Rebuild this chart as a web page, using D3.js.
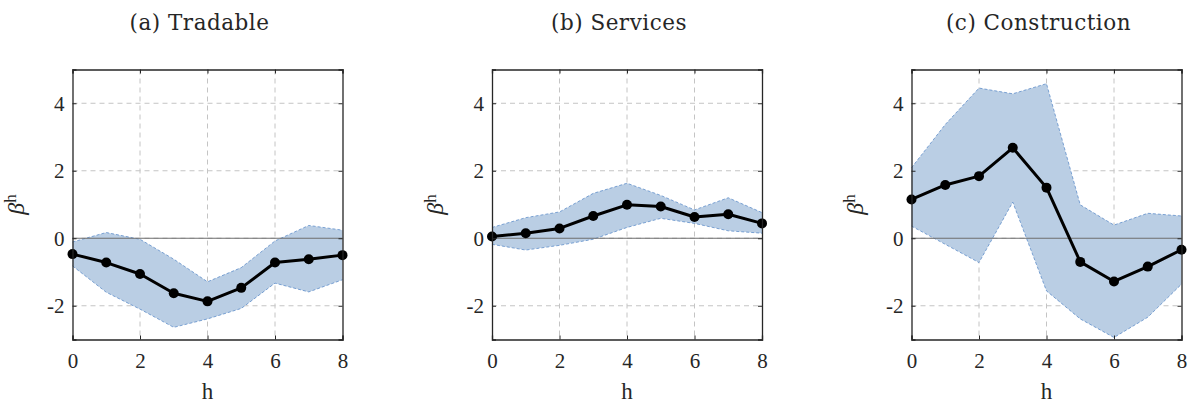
<!DOCTYPE html>
<html>
<head>
<meta charset="utf-8">
<script src="https://cdn.jsdelivr.net/npm/d3@7"></script>
<style>
  html, body { margin: 0; padding: 0; background: #fff; }
  svg { display: block; }
  text { font-family: "Liberation Serif", "DejaVu Serif", "Noto Serif", serif; fill: #262626; }
</style>
</head>
<body>
<script>
// Horizons
const horizons = [0, 1, 2, 3, 4, 5, 6, 7, 8];

// Panel titles
const titles = ["(a) Tradable", "(b) Services", "(c) Construction"];

// Point estimates per sector
const tradableBeta     = [-0.47, -0.72, -1.06, -1.63, -1.87, -1.47, -0.72, -0.62, -0.50];
const servicesBeta     = [0.05, 0.15, 0.29, 0.66, 0.99, 0.94, 0.63, 0.71, 0.44];
const constructionBeta = [1.15, 1.58, 1.84, 2.68, 1.50, -0.70, -1.28, -0.84, -0.34];

// Confidence band bounds per sector
const tradableUpper     = [-0.11, 0.17, -0.03, -0.62, -1.29, -0.87, -0.08, 0.38, 0.24];
const tradableLower     = [-0.82, -1.60, -2.10, -2.64, -2.39, -2.08, -1.33, -1.59, -1.23];
const servicesUpper     = [0.32, 0.61, 0.78, 1.33, 1.63, 1.27, 0.84, 1.20, 0.76];
const servicesLower     = [-0.18, -0.35, -0.21, -0.03, 0.32, 0.59, 0.44, 0.22, 0.15];
const constructionUpper = [2.09, 3.37, 4.45, 4.28, 4.58, 0.99, 0.39, 0.74, 0.66];
const constructionLower = [0.36, -0.18, -0.72, 1.07, -1.56, -2.39, -2.94, -2.34, -1.36];

// Axis ticks
const xTicks = [0, 2, 4, 6, 8];
const yTicks = [-2, 0, 2, 4];

const panels = [
  { title: titles[0], beta: tradableBeta, upper: tradableUpper, lower: tradableLower },
  { title: titles[1], beta: servicesBeta, upper: servicesUpper, lower: servicesLower },
  { title: titles[2], beta: constructionBeta, upper: constructionUpper, lower: constructionLower }
];

const W = 1192, H = 404;
const svg = d3.select("body").append("svg").attr("width", W).attr("height", H);

const serif = "'Liberation Serif', 'DejaVu Serif', 'Noto Serif', serif";
const titleFont = "'DejaVu Serif', 'Liberation Serif', serif";
const plotW = 270, plotH = 270;
const plotTop = 69.5;
const lefts = [72.5, 492, 911.5];

panels.forEach((p, i) => {
  const g = svg.append("g").attr("transform", `translate(${lefts[i]},${plotTop})`);
  const x = d3.scaleLinear().domain([0, 8]).range([0, plotW]);
  const y = d3.scaleLinear().domain([-3, 5]).range([plotH, 0]);

  // Grid
  g.append("g").selectAll("line").data(xTicks.filter(t => t > 0 && t < 8)).join("line")
    .attr("x1", d => x(d)).attr("x2", d => x(d)).attr("y1", 0).attr("y2", plotH)
    .attr("stroke", "#c4c4c4").attr("stroke-width", 1).attr("stroke-dasharray", "5,4");
  g.append("g").selectAll("line").data(yTicks).join("line")
    .attr("x1", 0).attr("x2", plotW).attr("y1", d => y(d)).attr("y2", d => y(d))
    .attr("stroke", "#c4c4c4").attr("stroke-width", 1).attr("stroke-dasharray", "5,4");

  // Confidence band
  const band = horizons.map((h, k) => ({ h, lo: p.lower[k], hi: p.upper[k] }));
  g.append("path").datum(band)
    .attr("d", d3.area().x(d => x(d.h)).y0(d => y(d.lo)).y1(d => y(d.hi)))
    .attr("fill", "#bacee4").attr("stroke", "none");
  [p.upper, p.lower].forEach(b => {
    g.append("path").datum(horizons.map((h, k) => [h, b[k]]))
      .attr("d", d3.line().x(d => x(d[0])).y(d => y(d[1])))
      .attr("fill", "none").attr("stroke", "#4f83c4").attr("stroke-width", 0.7)
      .attr("stroke-dasharray", "3,2");
  });

  // Zero line
  g.append("line").attr("x1", 0).attr("x2", plotW).attr("y1", y(0)).attr("y2", y(0))
    .attr("stroke", "#6e6e6e").attr("stroke-width", 1.2);

  // Point estimates
  const pts = horizons.map((h, k) => [h, p.beta[k]]);
  g.append("path").datum(pts)
    .attr("d", d3.line().x(d => x(d[0])).y(d => y(d[1])))
    .attr("fill", "none").attr("stroke", "#000").attr("stroke-width", 3)
    .attr("stroke-linejoin", "round");
  g.append("g").selectAll("circle").data(pts).join("circle")
    .attr("cx", d => x(d[0])).attr("cy", d => y(d[1])).attr("r", 5).attr("fill", "#000");

  // Axes (box with inward ticks on all sides)
  const tick = 4;
  const axB = g.append("g").attr("transform", `translate(0,${plotH})`)
    .call(d3.axisBottom(x).tickValues(xTicks).tickSize(-tick).tickPadding(14).tickFormat(d => String(d)));
  const axL = g.append("g")
    .call(d3.axisLeft(y).tickValues(yTicks).tickSize(-tick).tickPadding(8).tickFormat(d => String(d)));
  const axT = g.append("g")
    .call(d3.axisTop(x).tickValues(xTicks).tickSize(-tick).tickFormat(""));
  const axR = g.append("g").attr("transform", `translate(${plotW},0)`)
    .call(d3.axisRight(y).tickValues(yTicks).tickSize(-tick).tickFormat(""));
  [axB, axL, axT, axR].forEach(a => {
    a.attr("font-family", serif);
    a.select(".domain").attr("stroke", "#262626").attr("stroke-width", 1.3);
    a.selectAll(".tick line").attr("stroke", "#262626").attr("stroke-width", 1);
    a.selectAll(".tick text").style("font-family", serif)
      .style("font-size", "21px").attr("fill", "#262626");
  });
  axL.selectAll(".tick text").attr("dy", "0.34em");

  // Axis labels
  g.append("text").attr("x", plotW / 2).attr("y", plotH + 59)
    .attr("text-anchor", "middle").style("font-family", serif).style("font-size", "23px").text("h");
  const yl = g.append("text")
    .attr("transform", `translate(-49,${plotH / 2}) rotate(-90)`)
    .attr("text-anchor", "middle").style("font-family", serif).style("font-size", "24px");
  yl.append("tspan").style("font-style", "italic").text("β");
  yl.append("tspan").attr("dy", "-0.42em").style("font-size", "17px").text("h");

  // Title
  g.append("text").attr("x", plotW / 2 - 8).attr("y", -40)
    .attr("text-anchor", "middle").style("font-family", titleFont).style("font-size", "21.5px")
    .style("letter-spacing", "0.5px")
    .style("font-weight", "normal").attr("fill", "#1a1a1a").text(p.title);
});
</script>
</body>
</html>
